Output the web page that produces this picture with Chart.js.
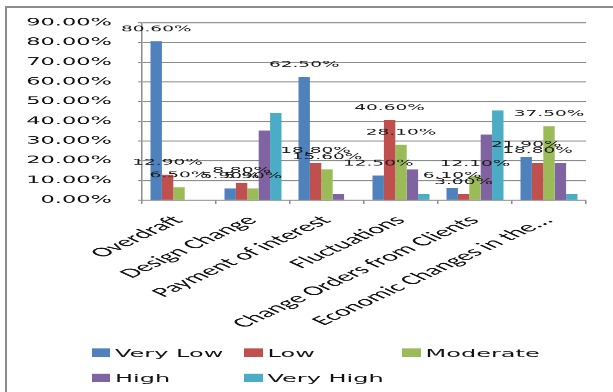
<!DOCTYPE html>
<html>
<head>
<meta charset="utf-8">
<script src="https://cdn.jsdelivr.net/npm/chart.js@4/dist/chart.umd.min.js"></script>
<style>
  html, body { margin: 0; padding: 0; background: #fff; overflow: hidden; }
  #page { position: relative; width: 613px; height: 392px; overflow: hidden; background: #fff; }
  #frame { position: absolute; left: 5px; top: 6px; width: 700px; height: 500px;
           border: 2px solid #8c8c8c; box-sizing: border-box; }
  /* the chart is laid out on a tall stage and squeezed vertically, giving wide lettering */
  #stage { position: absolute; left: 0; top: 0; width: 613px; height: 862px;
           transform: scaleY(0.45476); transform-origin: 0 0; }
  #chart { position: absolute; left: 0; top: 0; }
  #legend { position: absolute; left: 0; top: 0; width: 613px; height: 862px;
            font-family: "DejaVu Sans"; font-size: 24px; color: #111; }
  .item { position: absolute; height: 30px; display: flex; align-items: center; white-space: nowrap; }
  .swatch { width: 18.5px; height: 18.5px; margin-right: 5px; flex: none; }
</style>
</head>
<body>
<div id="page">
  <div id="frame"></div>
  <div id="stage">
    <canvas id="chart" width="613" height="862" style="width:613px;height:862px"></canvas>
    <div id="legend"></div>
  </div>
</div>
<script>
// Risk factors and the share of responses at each rating (percent)
const categories = ['Overdraft', 'Design Change', 'Payment of interest', 'Fluctuations',
                    'Change Orders from Clients', 'Economic Changes in the...'];
const seriesNames = ['Very Low', 'Low', 'Moderate', 'High', 'Very High'];
const veryLow  = [80.6,  5.9, 62.5, 12.5,  6.1, 21.9];
const low      = [12.9,  8.8, 18.8, 40.6,  3.0, 18.8];
const moderate = [ 6.5,  5.9, 15.6, 28.1, 12.1, 37.5];
const high     = [ 0.0, 35.3,  3.1, 15.6, 33.3, 18.8];
const veryHigh = [ 0.0, 44.1,  0.0,  3.1, 45.5,  3.1];
const seriesColors = ['#4F81BD', '#C0504D', '#9BBB59', '#8064A2', '#4BACC6'];
// series whose bars carry a value label
const labelledSeries = [0, 1, 2];
// value axis range
const axisMin = 0, axisMax = 90, axisStep = 10;

const seriesValues = [veryLow, low, moderate, high, veryHigh];
const fmt = v => v.toFixed(2) + '%';

const valueLabels = {
  id: 'valueLabels',
  afterDatasetsDraw(chart) {
    const ctx = chart.ctx;
    ctx.save();
    ctx.font = '18.5px "DejaVu Sans"';
    ctx.fillStyle = '#1a1a1a';
    ctx.textAlign = 'center';
    ctx.textBaseline = 'middle';
    labelledSeries.forEach(i => {
      const meta = chart.getDatasetMeta(i);
      meta.data.forEach((bar, j) => {
        ctx.fillText(fmt(chart.data.datasets[i].data[j]), bar.x, bar.y - 27);
      });
    });
    ctx.restore();
  }
};

const chart = new Chart(document.getElementById('chart'), {
  type: 'bar',
  data: {
    labels: categories,
    datasets: seriesNames.map((name, i) => ({
      label: name,
      data: seriesValues[i],
      backgroundColor: seriesColors[i],
      borderWidth: 0,
      categoryPercentage: 0.77,
      barPercentage: 1.0
    }))
  },
  options: {
    responsive: false,
    animation: false,
    devicePixelRatio: 1,
    layout: { padding: { top: 50, right: 27, left: 0, bottom: 0 } },
    plugins: {
      legend: { display: false },
      tooltip: { enabled: false }
    },
    scales: {
      y: {
        min: axisMin, max: axisMax,
        ticks: {
          stepSize: axisStep, padding: 26, color: '#111',
          font: { family: 'DejaVu Sans', size: 22.5 },
          callback: v => fmt(v)
        },
        grid: { color: '#8c8c8c', lineWidth: 2.2, tickLength: 4 },
        border: { color: '#8c8c8c', width: 1.5 },
        afterFit(scale) { scale.width = 142; }
      },
      x: {
        ticks: {
          color: '#111', autoSkip: false, minRotation: 45, maxRotation: 45,
          padding: 19, labelOffset: 0,
          font: { family: 'Carlito', size: 30 }
        },
        grid: { drawOnChartArea: false, offset: true, tickLength: 8.8, color: '#8c8c8c', lineWidth: 1.5 },
        border: { color: '#8c8c8c', width: 2.2 },
        afterFit(scale) { scale.height = 422; }
      }
    }
  },
  plugins: [valueLabels]
});

// legend laid out in fixed columns below the axis labels
const legendCols = [91.5, 244, 402];
const legendRows = [775.5, 831];
const legendBox = document.getElementById('legend');
chart.options.plugins.legend.labels.generateLabels(chart).forEach((item, i) => {
  const el = document.createElement('div');
  el.className = 'item';
  el.style.left = legendCols[i % 3] + 'px';
  el.style.top = (legendRows[Math.floor(i / 3)] - 15) + 'px';
  const sw = document.createElement('span');
  sw.className = 'swatch';
  sw.style.background = item.fillStyle;
  const tx = document.createElement('span');
  tx.textContent = item.text;
  el.appendChild(sw);
  el.appendChild(tx);
  legendBox.appendChild(el);
});
</script>
</body>
</html>
